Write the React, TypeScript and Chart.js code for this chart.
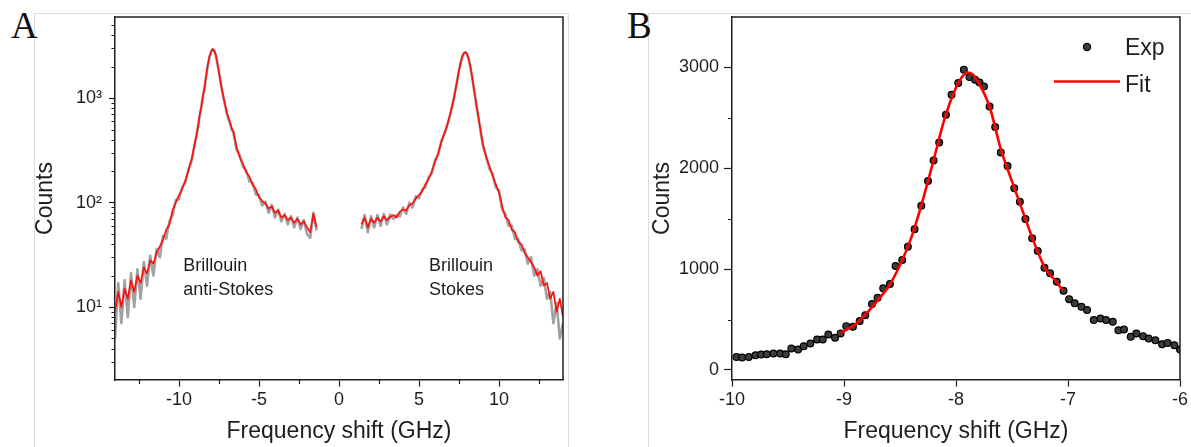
import React, { useEffect, useRef } from 'react';
import { Chart, registerables } from 'chart.js';

Chart.register(...registerables);

const FONT = "'Liberation Sans', Arial, Helvetica, sans-serif";
const SERIF = "'Liberation Serif', 'Times New Roman', serif";
const AXIS = '#1e1e1e';

// ---------- Panel A : full spectrum (log scale) ----------
const A_LEFT_X = [
  -14.0, -13.8, -13.6, -13.4, -13.2, -13.0, -12.8, -12.6, -12.4, -12.2, -12.0, -11.8, -11.6, -11.4, -11.2, -11.0, -10.8, -10.6, -10.4, -10.2, -10.0, -9.8, -9.6, -9.4, -9.2,
  -9.0, -8.9, -8.8, -8.7, -8.6, -8.5, -8.4, -8.3, -8.2, -8.1, -8.0, -7.9, -7.8, -7.7, -7.6, -7.5, -7.4, -7.3, -7.2, -7.1, -7.0, -6.9, -6.8, -6.7, -6.6,
  -6.4, -6.2, -6.0, -5.8, -5.6, -5.4, -5.2, -5.0, -4.8, -4.6, -4.4, -4.2, -4.0, -3.8, -3.6, -3.4, -3.2, -3.0, -2.8, -2.6, -2.4, -2.2, -2.0, -1.8, -1.6, -1.4,
];
const A_LEFT_RED = [
  9, 14, 10, 15, 12, 18, 14, 20, 17, 24, 21, 28, 26, 33, 38, 44, 55, 62, 85, 100, 118, 135, 165, 205, 265,
  380, 450, 545, 700, 840, 1060, 1280, 1650, 2080, 2480, 2780, 2950, 2860, 2600, 2160, 1780, 1430, 1180, 990, 840, 720, 640, 580, 510, 480,
  340, 270, 235, 195, 178, 148, 135, 112, 104, 98, 88, 92, 80, 84, 72, 76, 68, 72, 64, 70, 62, 66, 58, 52, 78, 58,
];
const A_LEFT_GRAY = [
  5, 17, 7, 18, 8, 21, 10, 23, 12, 27, 16, 31, 20, 36, 30, 48, 45, 66, 75, 106, 108, 140, 155, 210, 255,
  370, 440, 540, 690, 830, 1050, 1270, 1640, 2070, 2470, 2770, 2940, 2850, 2590, 2150, 1770, 1420, 1170, 980, 830, 710, 630, 570, 500, 470,
  320, 285, 220, 205, 160, 155, 120, 118, 94, 102, 80, 95, 72, 86, 66, 78, 62, 74, 58, 72, 56, 68, 50, 46, 80, 54,
];
const A_RIGHT_X = [
  1.4, 1.6, 1.8, 2.0, 2.2, 2.4, 2.6, 2.8, 3.0, 3.2, 3.4, 3.6, 3.8, 4.0, 4.2, 4.4, 4.6, 4.8, 5.0, 5.2, 5.4, 5.6, 5.8, 6.0, 6.2, 6.4,
  6.6, 6.7, 6.8, 6.9, 7.0, 7.1, 7.2, 7.3, 7.4, 7.5, 7.6, 7.7, 7.8, 7.9, 8.0, 8.1, 8.2, 8.3, 8.4, 8.5, 8.6, 8.7, 8.8, 8.9, 9.0,
  9.2, 9.4, 9.6, 9.8, 10.0, 10.2, 10.4, 10.6, 10.8, 11.0, 11.2, 11.4, 11.6, 11.8, 12.0, 12.2, 12.4, 12.6, 12.8, 13.0, 13.2, 13.4, 13.6, 13.8, 14.0,
];
const A_RIGHT_RED = [
  62, 72, 58, 70, 64, 72, 66, 74, 68, 73, 76, 72, 82, 86, 84, 95, 98, 110, 118, 128, 150, 168, 200, 245, 300, 380,
  470, 520, 580, 660, 760, 880, 1040, 1250, 1520, 1850, 2180, 2500, 2700, 2760, 2660, 2400, 2050, 1680, 1330, 1060, 840, 680, 550, 440, 360,
  270, 225, 180, 150, 125, 92, 72, 68, 55, 52, 42, 40, 33, 30, 27, 24, 20, 22, 16, 17, 12, 14, 9, 12, 8,
];
const A_RIGHT_GRAY = [
  56, 76, 52, 74, 58, 76, 60, 78, 62, 77, 70, 76, 74, 90, 78, 100, 90, 115, 110, 134, 140, 175, 190, 255, 285, 390,
  460, 510, 575, 650, 750, 870, 1030, 1240, 1510, 1840, 2170, 2490, 2690, 2750, 2650, 2390, 2040, 1670, 1320, 1050, 830, 670, 540, 430, 350,
  280, 210, 190, 140, 130, 85, 78, 60, 60, 45, 45, 35, 36, 26, 30, 20, 23, 16, 19, 12, 14, 7, 11, 5, 7,
];
const A_X_TICKS = [-12.5, -10, -7.5, -5, -2.5, 0, 2.5, 5, 7.5, 10, 12.5];
const A_X_LABELED = [-10, -5, 0, 5, 10];
const A_Y_TICKS = [3, 4, 5, 6, 7, 8, 9, 10, 20, 30, 40, 50, 60, 70, 80, 90, 100, 200, 300, 400, 500, 600, 700, 800, 900, 1000, 2000, 3000, 4000, 5000];
const A_Y_LABELED = [10, 100, 1000];
const A_Y_LABEL_TEXT = ['10¹', '10²', '10³'];
const A_NOTES = [
  ['Brillouin', 'anti-Stokes'],
  ['Brillouin', 'Stokes'],
];

// ---------- Panel B : anti-Stokes peak (linear scale) ----------
const B_EXP_X = [
  -9.96, -9.91, -9.85, -9.79, -9.74, -9.69, -9.63, -9.57, -9.52, -9.47, -9.41, -9.36, -9.30, -9.24, -9.19, -9.14, -9.08, -9.03,
  -8.98, -8.92, -8.86, -8.81, -8.75, -8.70, -8.65, -8.59, -8.54, -8.48, -8.43, -8.37, -8.31, -8.25, -8.20, -8.15, -8.09, -8.04,
  -7.98, -7.93, -7.88, -7.83, -7.79, -7.75, -7.70, -7.65, -7.60, -7.54, -7.48, -7.43, -7.38, -7.32, -7.27, -7.21, -7.16, -7.10,
  -7.04, -6.99, -6.94, -6.88, -6.83, -6.77, -6.71, -6.66, -6.60, -6.55, -6.50, -6.44, -6.39, -6.33, -6.28, -6.22, -6.16, -6.11, -6.05, -6.00,
];
const B_EXP_Y = [
  129, 123, 129, 146, 153, 156, 163, 163, 156, 212, 202, 235, 262, 302, 302, 351, 318, 361,
  434, 428, 484, 543, 653, 716, 809, 852, 1030, 1090, 1222, 1395, 1629, 1874, 2076, 2255, 2530, 2729,
  2845, 2977, 2904, 2878, 2851, 2811, 2612, 2408, 2156, 2023, 1802, 1669, 1497, 1305, 1179, 1013, 958, 874,
  785, 702, 660, 626, 593, 494, 510, 494, 477, 394, 401, 328, 361, 335, 312, 295, 255, 268, 245, 203,
];
const B_FIT_X = [-9.03, -8.9, -8.8, -8.7, -8.6, -8.5, -8.4, -8.3, -8.2, -8.1, -8.0, -7.95, -7.9, -7.85, -7.8, -7.7, -7.6, -7.5, -7.4, -7.3, -7.2, -7.1, -7.05];
const B_FIT_Y = [365, 450, 560, 690, 830, 1040, 1310, 1670, 2080, 2500, 2800, 2900, 2950, 2930, 2850, 2610, 2190, 1870, 1560, 1255, 1000, 870, 790];
const B_X_TICKS = [-10, -9, -8, -7, -6];
const B_Y_TICKS = [0, 500, 1000, 1500, 2000, 2500, 3000];
const B_Y_LABELED = [0, 1000, 2000, 3000];

const TRANSPARENT = 'rgba(0,0,0,0)';

const pts = (xs: number[], ys: number[]) => xs.map((x, i) => ({ x, y: ys[i] }));

const zeroPad = (s: any) => {
  s.paddingLeft = 0;
  s.paddingRight = 0;
  s.paddingTop = 0;
  s.paddingBottom = 0;
};

function frameAndMinor(xMajor: number[], yMajor: number[], xLen: number, yLen: number) {
  return {
    id: 'frameAndMinor',
    afterDraw(chart: any) {
      const { ctx, chartArea: a, scales } = chart;
      const xs = scales.x;
      const ys = scales.y;
      ctx.save();
      ctx.strokeStyle = AXIS;
      ctx.lineWidth = 1.5;
      ctx.beginPath();
      ctx.moveTo(a.left, a.top);
      ctx.lineTo(a.right, a.top);
      ctx.lineTo(a.right, a.bottom);
      ctx.stroke();
      ctx.lineWidth = 1.2;
      ctx.beginPath();
      for (const t of xs.ticks) {
        if (xMajor.includes(t.value)) continue;
        const p = Math.round(xs.getPixelForValue(t.value)) + 0.5;
        ctx.moveTo(p, a.bottom);
        ctx.lineTo(p, a.bottom + xLen);
      }
      for (const t of ys.ticks) {
        if (yMajor.includes(t.value)) continue;
        const p = Math.round(ys.getPixelForValue(t.value)) + 0.5;
        ctx.moveTo(a.left - yLen, p);
        ctx.lineTo(a.left, p);
      }
      ctx.stroke();
      ctx.restore();
    },
  };
}

const notesPlugin = {
  id: 'notes',
  afterDatasetsDraw(chart: any) {
    const { ctx, scales } = chart;
    const xs = scales.x;
    const ys = scales.y;
    const noteX = [-9.73, 5.63];
    const lineVals = [22.1, 12.9];
    ctx.save();
    ctx.font = `18px ${FONT}`;
    ctx.fillStyle = AXIS;
    ctx.textAlign = 'left';
    ctx.textBaseline = 'alphabetic';
    A_NOTES.forEach((lines, i) => {
      const px = xs.getPixelForValue(noteX[i]);
      lines.forEach((txt, j) => {
        ctx.fillText(txt, px, ys.getPixelForValue(lineVals[j]));
      });
    });
    ctx.restore();
  },
};

const legendPlugin = {
  id: 'bLegend',
  afterDraw(chart: any) {
    const { ctx, chartArea: a } = chart;
    const fit = chart.data.datasets[0];
    const exp = chart.data.datasets[1];
    ctx.save();
    ctx.beginPath();
    ctx.arc(a.right - 93, a.top + 30, 3.6, 0, Math.PI * 2);
    ctx.fillStyle = exp.pointBackgroundColor;
    ctx.fill();
    ctx.lineWidth = 1.2;
    ctx.strokeStyle = exp.pointBorderColor;
    ctx.stroke();
    ctx.beginPath();
    ctx.moveTo(a.right - 126, a.top + 64.5);
    ctx.lineTo(a.right - 60, a.top + 64.5);
    ctx.strokeStyle = fit.borderColor;
    ctx.lineWidth = 2.5;
    ctx.stroke();
    ctx.font = `23px ${FONT}`;
    ctx.fillStyle = AXIS;
    ctx.textAlign = 'left';
    ctx.textBaseline = 'alphabetic';
    ctx.fillText(exp.label, a.right - 55, a.top + 38);
    ctx.fillText(fit.label, a.right - 55, a.top + 74.5);
    ctx.restore();
  },
};

function ChartA() {
  const ref = useRef<HTMLCanvasElement>(null);
  useEffect(() => {
    if (!ref.current) return;
    const redStyle = { borderColor: '#ff1010', borderWidth: 1.7, pointRadius: 0, showLine: true, tension: 0, borderJoinStyle: 'round', order: 0 };
    const grayStyle = { borderColor: 'rgba(70,70,70,0.5)', borderWidth: 2.6, pointRadius: 0, showLine: true, tension: 0, borderJoinStyle: 'round', order: 1 };
    const chart = new Chart(ref.current, {
      type: 'scatter',
      data: {
        datasets: [
          { label: 'anti-Stokes', data: pts(A_LEFT_X, A_LEFT_RED), ...redStyle } as any,
          { label: 'Stokes', data: pts(A_RIGHT_X, A_RIGHT_RED), ...redStyle } as any,
          { label: 'anti-Stokes raw', data: pts(A_LEFT_X, A_LEFT_GRAY), ...grayStyle } as any,
          { label: 'Stokes raw', data: pts(A_RIGHT_X, A_RIGHT_GRAY), ...grayStyle } as any,
        ],
      },
      options: {
        responsive: false,
        devicePixelRatio: 1,
        animation: false,
        layout: { padding: { left: 0, right: 37, top: 17, bottom: 0 } },
        plugins: { legend: { display: false }, tooltip: { enabled: false } },
        scales: {
          x: {
            type: 'linear',
            min: -14,
            max: 14,
            afterBuildTicks: (s: any) => {
              s.ticks = A_X_TICKS.map((v) => ({ value: v }));
            },
            afterFit: (s: any) => {
              s.height = 67;
              zeroPad(s);
            },
            grid: {
              display: true,
              drawOnChartArea: false,
              drawTicks: true,
              tickLength: 6.5,
              tickWidth: 1.2,
              tickColor: (c: any) => (A_X_LABELED.includes(c.tick?.value) ? AXIS : TRANSPARENT),
            },
            border: { display: true, color: AXIS, width: 1.5 },
            ticks: {
              autoSkip: false,
              maxRotation: 0,
              padding: 3,
              color: AXIS,
              font: { family: FONT, size: 18 },
              callback: (v: any) => (A_X_LABELED.includes(Number(v)) ? String(v) : ''),
            },
            title: {
              display: true,
              text: 'Frequency shift (GHz)',
              color: AXIS,
              font: { family: FONT, size: 23 },
              padding: { top: 0, bottom: 2 },
            },
          },
          y: {
            type: 'logarithmic',
            min: 2,
            max: 6000,
            afterBuildTicks: (s: any) => {
              s.ticks = A_Y_TICKS.map((v) => ({ value: v }));
            },
            afterFit: (s: any) => {
              s.width = 115;
              zeroPad(s);
            },
            grid: {
              display: true,
              drawOnChartArea: false,
              drawTicks: true,
              tickLength: 6,
              tickWidth: 1.2,
              tickColor: (c: any) => (A_Y_LABELED.includes(c.tick?.value) ? AXIS : TRANSPARENT),
            },
            border: { display: true, color: AXIS, width: 1.5 },
            ticks: {
              autoSkip: false,
              padding: 7,
              color: AXIS,
              font: { family: FONT, size: 18 },
              callback: (v: any) => {
                const i = A_Y_LABELED.indexOf(Number(v));
                return i >= 0 ? A_Y_LABEL_TEXT[i] : '';
              },
            },
            title: {
              display: true,
              text: 'Counts',
              color: AXIS,
              font: { family: FONT, size: 23 },
              padding: { top: 32, bottom: 0 },
            },
          },
        },
      } as any,
      plugins: [frameAndMinor(A_X_LABELED, A_Y_LABELED, 4, 3.5), notesPlugin] as any,
    });
    return () => chart.destroy();
  }, []);
  return <canvas ref={ref} width={600} height={447} style={{ position: 'absolute', left: 0, top: 0, width: 600, height: 447 }} />;
}

function ChartB() {
  const ref = useRef<HTMLCanvasElement>(null);
  useEffect(() => {
    if (!ref.current) return;
    const chart = new Chart(ref.current, {
      type: 'scatter',
      data: {
        datasets: [
          {
            label: 'Fit',
            data: pts(B_FIT_X, B_FIT_Y),
            showLine: true,
            borderColor: '#ff0000',
            borderWidth: 2.6,
            pointRadius: 0,
            tension: 0.4,
            cubicInterpolationMode: 'monotone',
            order: 0,
          } as any,
          {
            label: 'Exp',
            data: pts(B_EXP_X, B_EXP_Y),
            showLine: false,
            pointRadius: 3.4,
            pointBackgroundColor: '#3c3c3c',
            pointBorderColor: '#000000',
            pointBorderWidth: 1.2,
            order: 1,
          } as any,
        ],
      },
      options: {
        responsive: false,
        devicePixelRatio: 1,
        animation: false,
        layout: { padding: { left: 0, right: 11, top: 17, bottom: 0 } },
        plugins: { legend: { display: false }, tooltip: { enabled: false } },
        scales: {
          x: {
            type: 'linear',
            min: -10,
            max: -6,
            afterBuildTicks: (s: any) => {
              s.ticks = B_X_TICKS.map((v) => ({ value: v }));
            },
            afterFit: (s: any) => {
              s.height = 67;
              zeroPad(s);
            },
            grid: { display: true, drawOnChartArea: false, drawTicks: true, tickLength: 6.5, tickWidth: 1.2, tickColor: AXIS },
            border: { display: true, color: AXIS, width: 1.5 },
            ticks: {
              autoSkip: false,
              maxRotation: 0,
              padding: 3,
              color: AXIS,
              font: { family: FONT, size: 18 },
              callback: (v: any) => String(v),
            },
            title: {
              display: true,
              text: 'Frequency shift (GHz)',
              color: AXIS,
              font: { family: FONT, size: 23 },
              padding: { top: 0, bottom: 2 },
            },
          },
          y: {
            type: 'linear',
            min: -100,
            max: 3500,
            afterBuildTicks: (s: any) => {
              s.ticks = B_Y_TICKS.map((v) => ({ value: v }));
            },
            afterFit: (s: any) => {
              s.width = 132;
              zeroPad(s);
            },
            grid: {
              display: true,
              drawOnChartArea: false,
              drawTicks: true,
              tickLength: 8,
              tickWidth: 1.2,
              tickColor: (c: any) => (B_Y_LABELED.includes(c.tick?.value) ? AXIS : TRANSPARENT),
            },
            border: { display: true, color: AXIS, width: 1.5 },
            ticks: {
              autoSkip: false,
              padding: 5,
              color: AXIS,
              font: { family: FONT, size: 18 },
              callback: (v: any) => (B_Y_LABELED.includes(Number(v)) ? String(v) : ''),
            },
            title: {
              display: true,
              text: 'Counts',
              color: AXIS,
              font: { family: FONT, size: 23 },
              padding: { top: 49, bottom: 0 },
            },
          },
        },
      } as any,
      plugins: [frameAndMinor(B_X_TICKS, B_Y_LABELED, 4, 4), legendPlugin] as any,
    });
    return () => chart.destroy();
  }, []);
  return <canvas ref={ref} width={591} height={447} style={{ position: 'absolute', left: 600, top: 0, width: 591, height: 447 }} />;
}

export default function App() {
  const line = '1px solid #dcdcdc';
  const panelLabel: React.CSSProperties = {
    position: 'absolute',
    fontFamily: SERIF,
    fontSize: 37,
    lineHeight: '37px',
    color: '#111',
  };
  return (
    <div style={{ position: 'fixed', left: 0, top: 0, width: 1191, height: 447, background: '#fff', overflow: 'hidden' }}>
      <div style={{ position: 'absolute', left: 34, top: 13, width: 533, height: 440, borderLeft: line, borderTop: line, borderRight: line }} />
      <div style={{ position: 'absolute', left: 648, top: 13, width: 560, height: 440, borderLeft: line, borderTop: line }} />
      <div style={{ ...panelLabel, left: 11, top: 7 }}>A</div>
      <div style={{ ...panelLabel, left: 627, top: 7 }}>B</div>
      <ChartA />
      <ChartB />
    </div>
  );
}
